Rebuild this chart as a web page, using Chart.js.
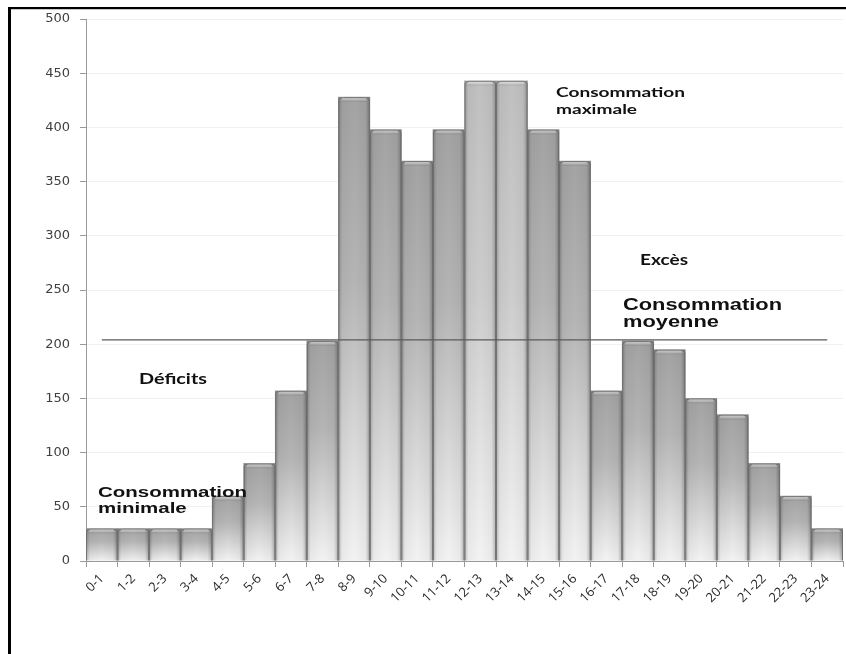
<!DOCTYPE html>
<html lang="fr">
<head>
<meta charset="utf-8">
<title>Consommation horaire</title>
<script src="https://cdn.jsdelivr.net/npm/chart.js@4.4.1/dist/chart.umd.min.js"></script>
<style>
  html, body { margin: 0; padding: 0; background: #ffffff; }
  #wrap { position: relative; width: 846px; height: 654px; }
</style>
</head>
<body>
<div id="wrap"><canvas id="chart" width="846" height="654"></canvas></div>
<script>
// Tranches horaires (axe des abscisses)
const hours = ['0-1','1-2','2-3','3-4','4-5','5-6','6-7','7-8','8-9','9-10','10-11','11-12',
               '12-13','13-14','14-15','15-16','16-17','17-18','18-19','19-20','20-21','21-22','22-23','23-24'];

// Consommation par tranche horaire
const consumption = [30, 30, 30, 30, 60, 90, 157, 203, 428, 398, 369, 398,
                     443, 443, 398, 369, 157, 203, 195, 150, 135, 90, 60, 30];

// Niveau de consommation moyenne (ligne horizontale)
const averageConsumption = 204;

// Graduations de l'axe vertical
const yAxisMin = 0;
const yAxisMax = 500;
const yAxisStep = 50;

// Textes d'annotation posés sur le graphique
const notes = [
  { lines: ['Consommation', 'maximale'], x: 556, y: 97,  lh: 16.5, font: 'bold 14px Lato', width: 129 },
  { lines: ['Excès'],                    x: 640, y: 265, lh: 16,   font: 'bold 15px Lato', width: 48 },
  { lines: ['Consommation', 'moyenne'],  x: 623, y: 310, lh: 17,   font: 'bold 16px "Liberation Sans"', width: 159 },
  { lines: ['Déficits'],                 x: 139, y: 384, lh: 16,   font: 'bold 15px Lato', width: 68 },
  { lines: ['Consommation', 'minimale'], x: 98,  y: 497, lh: 16,   font: 'bold 15px "Liberation Sans"', width: 149 }
];

const peak = Math.max(...consumption);

// Dégradé vertical propre à chaque barre
function barFill(ctx) {
  const chart = ctx.chart;
  if (!chart.chartArea || ctx.raw === undefined) return '#bbbbbb';
  const y = chart.scales.y;
  const top = y.getPixelForValue(ctx.raw);
  const base = y.getPixelForValue(0);
  const g = chart.ctx.createLinearGradient(0, top, 0, base);
  if (ctx.raw === peak) {
    g.addColorStop(0, '#c0c0c0');
    g.addColorStop(0.45, '#cdcdcd');
    g.addColorStop(1, '#f3f3f3');
  } else {
    g.addColorStop(0, '#a3a3a3');
    g.addColorStop(0.4, '#b5b5b5');
    g.addColorStop(1, '#f3f3f3');
  }
  return g;
}

// Cadre noir et fond blanc
const framePlugin = {
  id: 'frame',
  beforeDraw(chart) {
    const c = chart.ctx;
    c.save();
    c.fillStyle = '#ffffff';
    c.fillRect(0, 0, chart.width, chart.height);
    c.restore();
  },
  afterDraw(chart) {
    const c = chart.ctx;
    c.save();
    c.fillStyle = '#000000';
    c.fillRect(8, 7, chart.width - 8, 2);
    c.fillRect(8, 7, 3, chart.height - 7);
    c.fillStyle = '#c8c8c8';
    c.fillRect(11, 9, chart.width - 11, 1);
    c.restore();
  }
};

// Relief des barres : bords ombrés et biseau supérieur
const bevelPlugin = {
  id: 'bevel',
  afterDatasetDraw(chart, args) {
    const meta = args.meta;
    if (meta.type !== 'bar') return;
    const c = chart.ctx;
    c.save();
    meta.data.forEach((bar) => {
      const p = bar.getProps(['x', 'y', 'base', 'width'], true);
      const left = p.x - p.width / 2;
      const right = p.x + p.width / 2;
      const top = p.y;
      const h = p.base - p.y;
      if (h <= 0) return;
      // ombre latérale
      const side = c.createLinearGradient(left, 0, right, 0);
      side.addColorStop(0, 'rgba(0,0,0,0.24)');
      side.addColorStop(0.12, 'rgba(0,0,0,0.04)');
      side.addColorStop(0.5, 'rgba(0,0,0,0)');
      side.addColorStop(0.86, 'rgba(0,0,0,0.04)');
      side.addColorStop(1, 'rgba(0,0,0,0.28)');
      c.fillStyle = side;
      c.fillRect(left, top, p.width, h);
      // biseau du haut
      const bh = Math.min(5, h);
      const bev = c.createLinearGradient(0, top, 0, top + bh);
      bev.addColorStop(0, 'rgba(255,255,255,0.45)');
      bev.addColorStop(0.6, 'rgba(255,255,255,0.2)');
      bev.addColorStop(1, 'rgba(0,0,0,0.06)');
      c.fillStyle = bev;
      c.beginPath();
      c.moveTo(left + 2, top + bh);
      c.lineTo(left + 4, top);
      c.lineTo(right - 4, top);
      c.lineTo(right - 2, top + bh);
      c.closePath();
      c.fill();
      c.strokeStyle = 'rgba(105,105,105,0.85)';
      c.lineWidth = 1;
      c.beginPath();
      c.moveTo(left + 0.5, p.base);
      c.lineTo(left + 0.5, top + 3);
      c.quadraticCurveTo(left + 1, top + 0.5, left + 5, top + 0.5);
      c.lineTo(right - 5, top + 0.5);
      c.quadraticCurveTo(right - 1, top + 0.5, right - 0.5, top + 3);
      c.lineTo(right - 0.5, p.base);
      c.stroke();
    });
    c.restore();
  }
};

// Annotations textuelles
const notesPlugin = {
  id: 'notes',
  afterDraw(chart) {
    const c = chart.ctx;
    c.save();
    c.fillStyle = '#111111';
    c.textBaseline = 'alphabetic';
    c.textAlign = 'left';
    notes.forEach((n) => {
      c.font = n.font;
      const sx = n.width / c.measureText(n.lines[0]).width;
      n.lines.forEach((line, i) => {
        c.save();
        c.translate(n.x, n.y + i * n.lh);
        c.scale(sx, 1);
        c.fillText(line, 0, 0);
        c.restore();
      });
    });
    c.restore();
  }
};

new Chart(document.getElementById('chart'), {
  type: 'bar',
  data: {
    labels: hours,
    datasets: [
      {
        type: 'line',
        label: 'Consommation moyenne',
        data: hours.map(() => averageConsumption),
        borderColor: '#5a5a5a',
        borderWidth: 1.3,
        pointRadius: 0,
        fill: false,
        order: 0
      },
      {
        type: 'bar',
        label: 'Consommation',
        data: consumption,
        backgroundColor: barFill,
        borderWidth: 0,
        barPercentage: 1,
        categoryPercentage: 1,
        order: 1
      }
    ]
  },
  options: {
    responsive: false,
    animation: false,
    events: [],
    layout: { padding: { left: 0, right: 3, top: 19, bottom: 0 } },
    plugins: {
      legend: { display: false },
      tooltip: { enabled: false },
      title: { display: false }
    },
    scales: {
      x: {
        offset: true,
        grid: {
          offset: true,
          drawOnChartArea: false,
          drawTicks: true,
          tickLength: 6,
          tickColor: '#9a9a9a'
        },
        border: { color: '#9a9a9a', width: 1 },
        ticks: {
          autoSkip: false,
          maxRotation: 45,
          minRotation: 45,
          padding: 4,
          color: '#2b2b2b',
          font: { family: '"Open Sans", "Liberation Sans", sans-serif', size: 13 }
        },
        afterFit(scale) { scale.height = 93; }
      },
      y: {
        min: yAxisMin,
        max: yAxisMax,
        ticks: {
          stepSize: yAxisStep,
          padding: 10,
          color: '#404040',
          font: { family: '"DejaVu Sans", sans-serif', size: 13 }
        },
        grid: {
          color: '#f0f0f0',
          lineWidth: 1,
          drawTicks: true,
          tickLength: 6,
          tickColor: '#9a9a9a'
        },
        border: { color: '#9a9a9a', width: 1 },
        afterFit(scale) { scale.width = 86; }
      }
    }
  },
  plugins: [framePlugin, bevelPlugin, notesPlugin]
});
</script>
</body>
</html>
